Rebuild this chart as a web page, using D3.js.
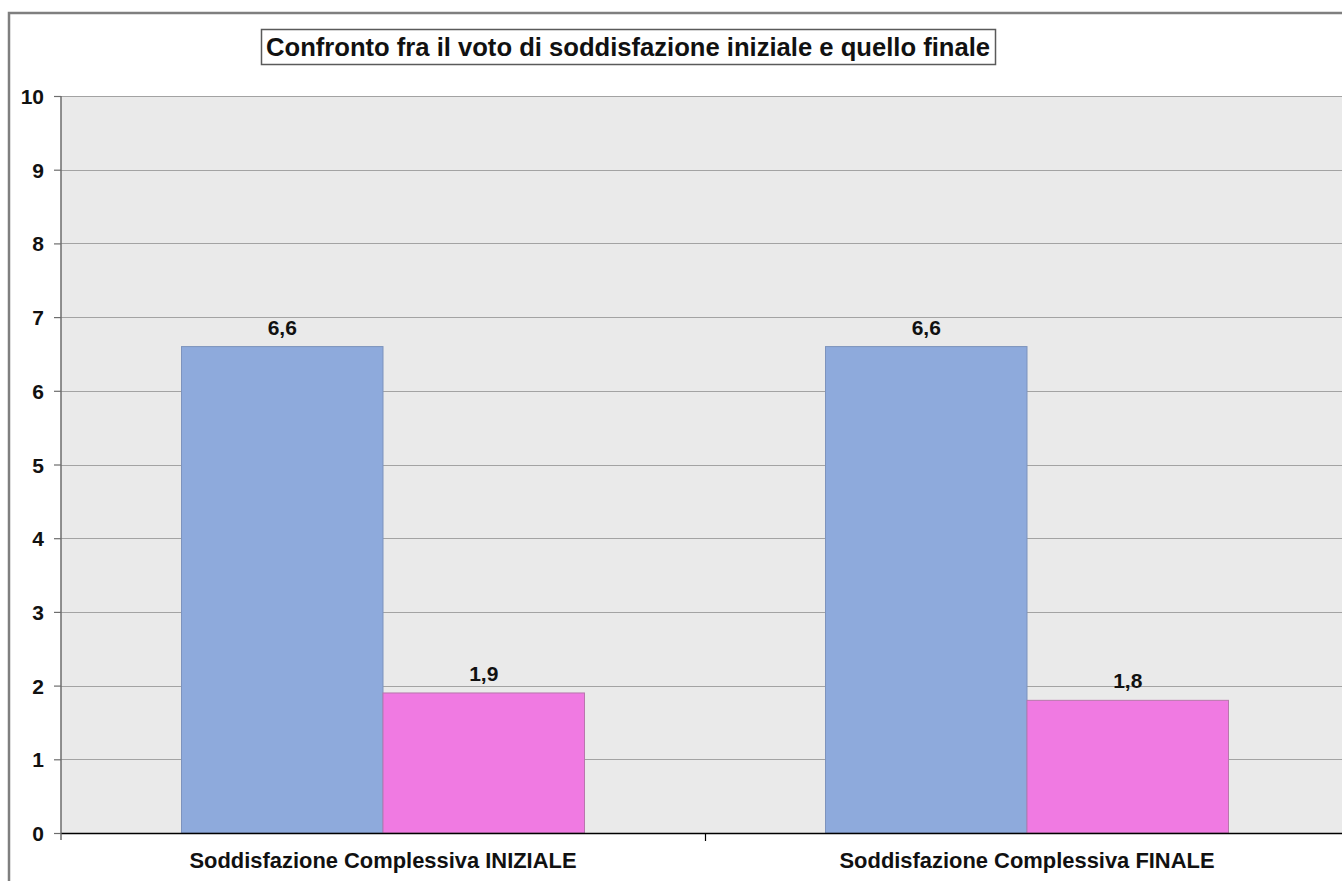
<!DOCTYPE html>
<html>
<head>
<meta charset="utf-8">
<script src="https://cdn.jsdelivr.net/npm/d3@7"></script>
<style>
  html, body { margin: 0; padding: 0; background: #ffffff; overflow: hidden; }
  svg { display: block; }
</style>
</head>
<body>
<svg id="chart" width="1342" height="881"></svg>
<script>
// Dati del grafico
const titolo = "Confronto fra il voto di soddisfazione iniziale e quello finale";
const categorie = ["Soddisfazione Complessiva INIZIALE", "Soddisfazione Complessiva FINALE"];
const serie1 = [6.6, 6.6];
const serie2 = [1.9, 1.8];
const tickY = [0, 1, 2, 3, 4, 5, 6, 7, 8, 9, 10];
const coloriSerie = ["#8eaadc", "#f07ae2"];
const bordiSerie = ["#7d93bd", "#b877ad"];

const svg = d3.select("#chart");
const margin = { left: 61, top: 96, right: -7, bottom: 48 };
const W = 1342, H = 881;
const plotW = W - margin.left - margin.right;   // 1288
const plotH = H - margin.top - margin.bottom;   // 737

const fmt = v => d3.format(".1f")(v).replace(".", ",");

// Cornice esterna del grafico (lati sinistro e superiore visibili)
svg.append("path")
  .attr("d", `M9,${H + 5}V13H${W + 5}`)
  .attr("fill", "none")
  .attr("stroke", "#7f7f7f").attr("stroke-width", 2.5);

const g = svg.append("g").attr("transform", `translate(${margin.left},${margin.top})`);

const x0 = d3.scaleBand().domain(categorie).range([0, plotW]).paddingInner(0).paddingOuter(0);
const groupW = 403;
const x1 = d3.scaleBand().domain([0, 1]).range([0, groupW]).padding(0);
const y = d3.scaleLinear().domain([0, 10]).range([plotH, 0]);

// Sfondo area del tracciato
g.append("rect")
  .attr("x", 0).attr("y", 0)
  .attr("width", plotW).attr("height", plotH)
  .attr("fill", "#eaeaea");

// Griglia orizzontale
g.append("g")
  .selectAll("line")
  .data(tickY.filter(d => d > 0))
  .join("line")
  .attr("x1", 0).attr("x2", plotW)
  .attr("y1", d => Math.round(y(d)) + 0.5).attr("y2", d => Math.round(y(d)) + 0.5)
  .attr("stroke", "#a3a3a3").attr("stroke-width", 1.2);

// Barre
const dati = categorie.map((c, i) => ({ cat: c, valori: [serie1[i], serie2[i]] }));
const gruppi = g.selectAll("g.gruppo")
  .data(dati)
  .join("g")
  .attr("class", "gruppo")
  .attr("transform", d => `translate(${x0(d.cat) + (x0.bandwidth() - groupW) / 2},0)`);

gruppi.selectAll("rect")
  .data(d => d.valori.map((v, k) => ({ v, k })))
  .join("rect")
  .attr("x", d => x1(d.k))
  .attr("y", d => y(d.v))
  .attr("width", x1.bandwidth())
  .attr("height", d => y(0) - y(d.v))
  .attr("fill", d => coloriSerie[d.k])
  .attr("stroke", d => bordiSerie[d.k])
  .attr("stroke-width", 1);

// Etichette dei valori
gruppi.selectAll("text")
  .data(d => d.valori.map((v, k) => ({ v, k })))
  .join("text")
  .attr("x", d => x1(d.k) + x1.bandwidth() / 2)
  .attr("y", d => y(d.v) - 12)
  .attr("text-anchor", "middle")
  .attr("font-family", "'Liberation Sans', Arial, sans-serif")
  .attr("font-weight", "bold")
  .attr("font-size", 21)
  .attr("fill", "#111")
  .text(d => fmt(d.v));

// Asse Y
const assey = g.append("g")
  .call(d3.axisLeft(y).tickValues(tickY).tickSize(7).tickPadding(10).tickFormat(d3.format("d")));
assey.select(".domain").attr("stroke", "#6d6d6d").attr("stroke-width", 1.5)
  .attr("d", `M0,0V${plotH + 7}`);
assey.selectAll(".tick line").attr("stroke", "#6d6d6d").attr("stroke-width", 1.2);
assey.selectAll(".tick text")
  .attr("font-family", "'Liberation Sans', Arial, sans-serif")
  .attr("font-weight", "bold")
  .attr("font-size", 21)
  .attr("fill", "#111")
  .attr("dy", "0.36em");

// Asse X
const assex = g.append("g")
  .attr("transform", `translate(0,${plotH})`)
  .call(d3.axisBottom(x0).tickSize(0).tickPadding(0).tickFormat(""));
assex.select(".domain").attr("stroke", "#000").attr("stroke-width", 1.5);
assex.selectAll(".tick").remove();

// Tacca di separazione fra le categorie
g.append("line")
  .attr("x1", x0(categorie[1]) + 0.5).attr("x2", x0(categorie[1]) + 0.5)
  .attr("y1", plotH).attr("y2", plotH + 8)
  .attr("stroke", "#000").attr("stroke-width", 1.2);

// Etichette delle categorie
const larghezzeCat = [387, 375];
g.selectAll("text.cat")
  .data(categorie)
  .join("text")
  .attr("class", "cat")
  .attr("x", d => x0(d) + x0.bandwidth() / 2)
  .attr("y", plotH + 35)
  .attr("text-anchor", "middle")
  .attr("font-family", "'Liberation Sans Narrow', 'Arial Narrow', 'Liberation Sans', sans-serif")
  .attr("font-weight", "bold")
  .attr("font-size", 22)
  .attr("fill", "#111")
  .attr("textLength", (d, i) => larghezzeCat[i])
  .attr("lengthAdjust", "spacingAndGlyphs")
  .text(d => d);

// Titolo con riquadro
svg.append("rect")
  .attr("x", 261.5).attr("y", 29.5)
  .attr("width", 734).attr("height", 35)
  .attr("fill", "#ffffff")
  .attr("stroke", "#5a5a5a").attr("stroke-width", 1.5);
svg.append("text")
  .attr("x", 628).attr("y", 56)
  .attr("text-anchor", "middle")
  .attr("font-family", "'Liberation Sans Narrow', 'Arial Narrow', 'Liberation Sans', sans-serif")
  .attr("font-weight", "bold")
  .attr("font-size", 25)
  .attr("fill", "#111")
  .attr("textLength", 724)
  .attr("lengthAdjust", "spacingAndGlyphs")
  .text(titolo);
</script>
</body>
</html>
